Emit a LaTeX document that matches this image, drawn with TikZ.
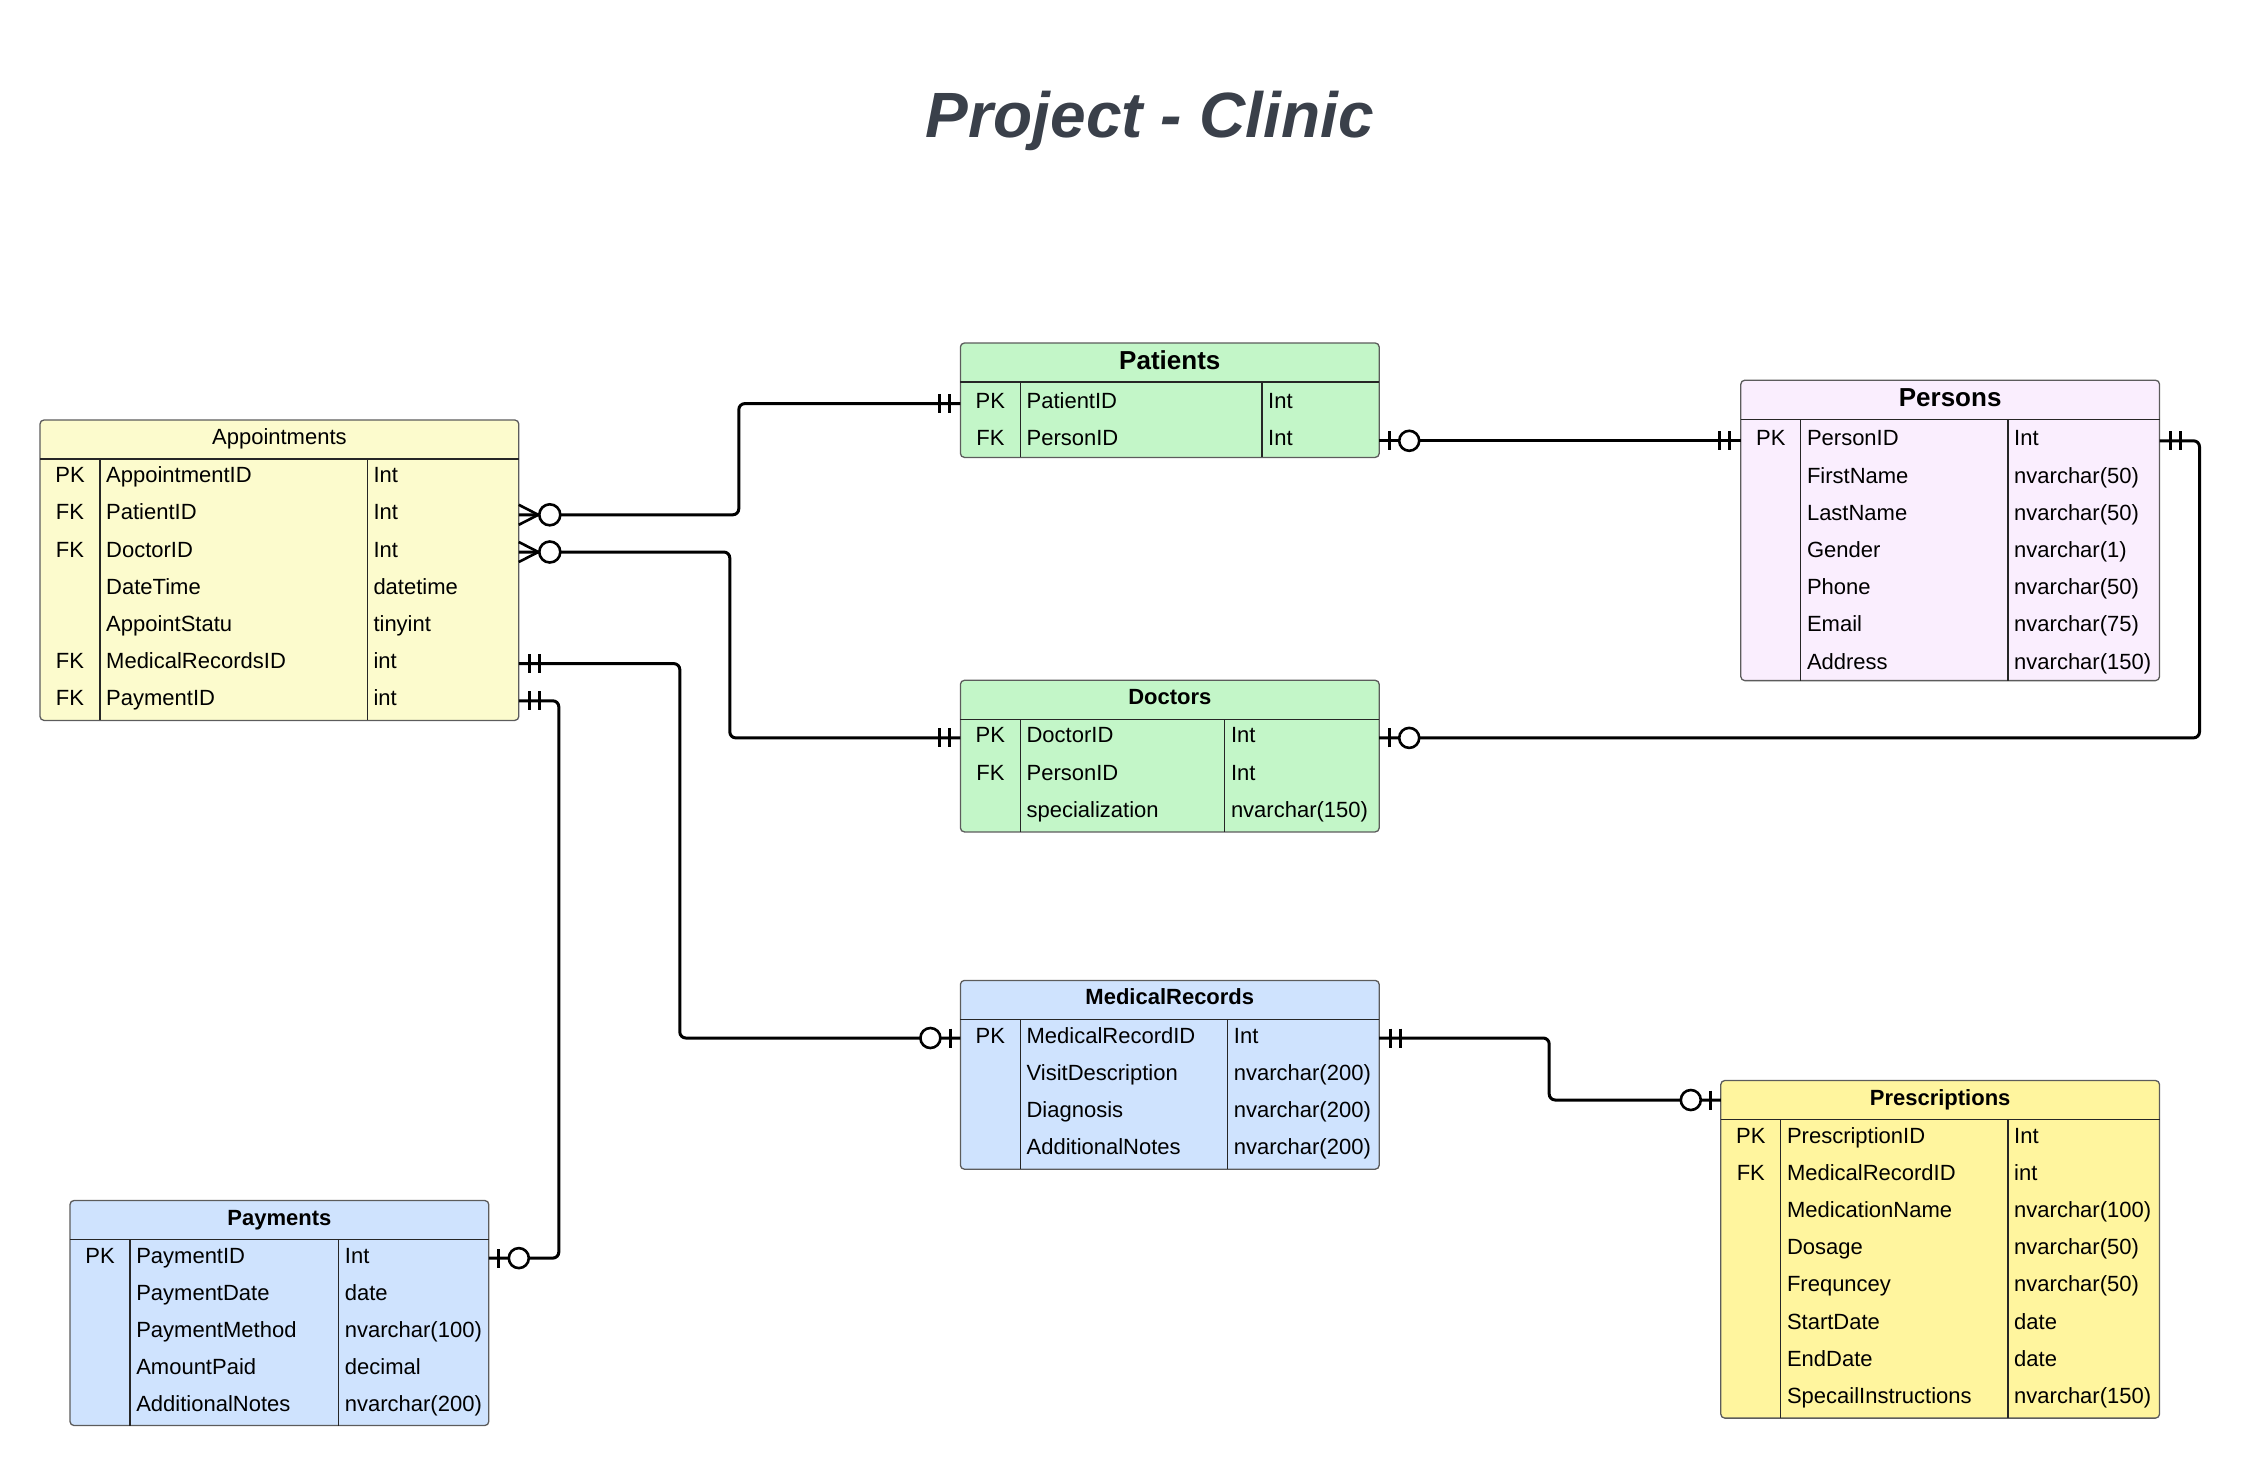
\documentclass[tikz,border=0pt]{standalone}
\usepackage{fontspec}
\setmainfont{Liberation Sans}
\usetikzlibrary{decorations.markings}

\definecolor{titlegray}{HTML}{3A404A}
\definecolor{boxgray}{HTML}{5C5C5C}
\definecolor{appfill}{HTML}{FCFBCD}
\definecolor{greenfill}{HTML}{C3F6C8}
\definecolor{lilacfill}{HTML}{FAEEFE}
\definecolor{bluefill}{HTML}{CFE3FE}
\definecolor{yellowfill}{HTML}{FFF59E}

\tikzstyle{tbl}=[draw=boxgray,line width=1.3,rounded corners=4,anchor=north west,inner sep=0,outer sep=0]
\tikzstyle{rowbox}=[inner sep=0,outer sep=0,minimum height=37.2]
\tikzstyle{hdr}=[rowbox,minimum height=39,font=\fontsize{22}{26}\selectfont\bfseries,text height=16,text depth=6]
\tikzstyle{bighdr}=[hdr,font=\fontsize{26}{30}\selectfont\bfseries,text height=19,text depth=5]
\tikzstyle{keytxt}=[inner sep=0,font=\fontsize{22}{26}\selectfont,text height=18,text depth=8]
\tikzstyle{fldtxt}=[keytxt,anchor=west]
\tikzstyle{sepline}=[line width=1.3,draw=black!85]
\tikzstyle{erline}=[line width=3,rounded corners=6]
\tikzstyle{one-s}=[postaction={decorate,decoration={markings,
  mark=at position 11pt with {\draw[line width=2.8,sharp corners] (0,-9.5) -- (0,9.5);},
  mark=at position 21pt with {\draw[line width=2.8,sharp corners] (0,-9.5) -- (0,9.5);}}}]
\tikzstyle{one-e}=[postaction={decorate,decoration={markings,
  mark=at position -21pt with {\draw[line width=2.8,sharp corners] (0,-9.5) -- (0,9.5);},
  mark=at position -11pt with {\draw[line width=2.8,sharp corners] (0,-9.5) -- (0,9.5);}}}]
\tikzstyle{zone-s}=[postaction={decorate,decoration={markings,
  mark=at position 10pt with {\draw[line width=2.8,sharp corners] (0,-9.5) -- (0,9.5);},
  mark=at position 30pt with {\draw[line width=2.6,fill=white] (0,0) circle (10);}}}]
\tikzstyle{zone-e}=[postaction={decorate,decoration={markings,
  mark=at position -30pt with {\draw[line width=2.6,fill=white] (0,0) circle (10);},
  mark=at position -10pt with {\draw[line width=2.8,sharp corners] (0,-9.5) -- (0,9.5);}}}]
\tikzstyle{many-s}=[postaction={decorate,decoration={markings,
  mark=at position 0.5pt with {\draw[line width=2.6,sharp corners] (-0.5,-10) -- (19,0) -- (-0.5,10);},
  mark=at position 31pt with {\draw[line width=2.6,fill=white] (0,0) circle (10.5);}}}]

\begin{document}
\begin{tikzpicture}[x=1pt,y=-1pt]
	\useasboundingbox (0,0) rectangle (2241,1465);
	\node[font=\fontsize{64}{72}\selectfont\bfseries\itshape,text=titlegray,anchor=base] (title) at (1150,137) {Project - Clinic};
	
	% Appointments
	\node[tbl,fill=appfill,minimum width=478.8,minimum height=300.4] (app) at (40,420) {};
	\node[hdr,font=\fontsize{22}{26}\selectfont,minimum width=478.8] (app-h) at (279.4,439.5) {Appointments};
	\draw[sepline] (40,459) -- (518.8,459);
	\draw[sepline] (100,459) -- (100,720.4);
	\draw[sepline] (367.3,459) -- (367.3,720.4);
	\foreach \k/\f/\t [count=\i] in {PK/AppointmentID/Int, FK/PatientID/Int, FK/DoctorID/Int, /DateTime/datetime, /AppointStatu/tinyint, FK/MedicalRecordsID/int, FK/PaymentID/int}
	{
		\node[rowbox,minimum width=478.8] (app-\i) at (279.4,{459+(\i-0.5)*37.2}) {};
		\node[keytxt] (app-\i-k) at (70,{459+(\i-0.5)*37.2}) {\k};
		\node[fldtxt] (app-\i-f) at (106,{459+(\i-0.5)*37.2}) {\f};
		\node[fldtxt] (app-\i-t) at (373.3,{459+(\i-0.5)*37.2}) {\t};
	}
	
	% Patients
	\node[tbl,fill=greenfill,minimum width=418.8,minimum height=114.4] (pat) at (960.4,343) {};
	\node[bighdr,minimum width=418.8] (pat-h) at (1169.8,362.5) {Patients};
	\draw[sepline] (960.4,382) -- (1379.2,382);
	\draw[sepline] (1020.4,382) -- (1020.4,457.4);
	\draw[sepline] (1262,382) -- (1262,457.4);
	\foreach \k/\f/\t [count=\i] in {PK/PatientID/Int, FK/PersonID/Int}
	{
		\node[rowbox,minimum width=418.8] (pat-\i) at (1169.8,{385+(\i-0.5)*37.2}) {};
		\node[keytxt] (pat-\i-k) at (990.4,{385+(\i-0.5)*37.2}) {\k};
		\node[fldtxt] (pat-\i-f) at (1026.4,{385+(\i-0.5)*37.2}) {\f};
		\node[fldtxt] (pat-\i-t) at (1268,{385+(\i-0.5)*37.2}) {\t};
	}
	
	% Persons
	\node[tbl,fill=lilacfill,minimum width=418.7,minimum height=300.4] (per) at (1740.8,380.2) {};
	\node[bighdr,minimum width=418.7] (per-h) at (1950.15,399.7) {Persons};
	\draw[sepline] (1740.8,419.2) -- (2159.5,419.2);
	\draw[sepline] (1800.8,419.2) -- (1800.8,680.6);
	\draw[sepline] (2008,419.2) -- (2008,680.6);
	\foreach \k/\f/\t [count=\i] in {PK/PersonID/Int, /FirstName/nvarchar(50), /LastName/nvarchar(50), /Gender/nvarchar(1), /Phone/nvarchar(50), /Email/nvarchar(75), /Address/nvarchar(150)}
	{
		\node[rowbox,minimum width=418.7] (per-\i) at (1950.15,{422.2+(\i-0.5)*37.2}) {};
		\node[keytxt] (per-\i-k) at (1770.8,{422.2+(\i-0.5)*37.2}) {\k};
		\node[fldtxt] (per-\i-f) at (1806.8,{422.2+(\i-0.5)*37.2}) {\f};
		\node[fldtxt] (per-\i-t) at (2014,{422.2+(\i-0.5)*37.2}) {\t};
	}
	
	% Doctors
	\node[tbl,fill=greenfill,minimum width=418.8,minimum height=151.6] (doc) at (960.4,680.3) {};
	\node[hdr,minimum width=418.8] (doc-h) at (1169.8,699.8) {Doctors};
	\draw[sepline] (960.4,719.3) -- (1379.2,719.3);
	\draw[sepline] (1020.4,719.3) -- (1020.4,831.9);
	\draw[sepline] (1224.8,719.3) -- (1224.8,831.9);
	\foreach \k/\f/\t [count=\i] in {PK/DoctorID/Int, FK/PersonID/Int, /specialization/nvarchar(150)}
	{
		\node[rowbox,minimum width=418.8] (doc-\i) at (1169.8,{719.3+(\i-0.5)*37.2}) {};
		\node[keytxt] (doc-\i-k) at (990.4,{719.3+(\i-0.5)*37.2}) {\k};
		\node[fldtxt] (doc-\i-f) at (1026.4,{719.3+(\i-0.5)*37.2}) {\f};
		\node[fldtxt] (doc-\i-t) at (1230.8,{719.3+(\i-0.5)*37.2}) {\t};
	}
	
	% MedicalRecords
	\node[tbl,fill=bluefill,minimum width=418.8,minimum height=188.8] (med) at (960.4,980.4) {};
	\node[hdr,minimum width=418.8] (med-h) at (1169.8,999.9) {MedicalRecords};
	\draw[sepline] (960.4,1019.4) -- (1379.2,1019.4);
	\draw[sepline] (1020.4,1019.4) -- (1020.4,1169.2);
	\draw[sepline] (1227.7,1019.4) -- (1227.7,1169.2);
	\foreach \k/\f/\t [count=\i] in {PK/MedicalRecordID/Int, /VisitDescription/nvarchar(200), /Diagnosis/nvarchar(200), /AdditionalNotes/nvarchar(200)}
	{
		\node[rowbox,minimum width=418.8] (med-\i) at (1169.8,{1019.4+(\i-0.5)*37.2}) {};
		\node[keytxt] (med-\i-k) at (990.4,{1019.4+(\i-0.5)*37.2}) {\k};
		\node[fldtxt] (med-\i-f) at (1026.4,{1019.4+(\i-0.5)*37.2}) {\f};
		\node[fldtxt] (med-\i-t) at (1233.7,{1019.4+(\i-0.5)*37.2}) {\t};
	}
	
	% Prescriptions
	\node[tbl,fill=yellowfill,minimum width=438.7,minimum height=337.6] (pre) at (1720.8,1080.5) {};
	\node[hdr,minimum width=438.7] (pre-h) at (1940.15,1100) {Prescriptions};
	\draw[sepline] (1720.8,1119.5) -- (2159.5,1119.5);
	\draw[sepline] (1780.8,1119.5) -- (1780.8,1418.1);
	\draw[sepline] (2008,1119.5) -- (2008,1418.1);
	\foreach \k/\f/\t [count=\i] in {PK/PrescriptionID/Int, FK/MedicalRecordID/int, /MedicationName/nvarchar(100), /Dosage/nvarchar(50), /Frequncey/nvarchar(50), /StartDate/date, /EndDate/date, /SpecailInstructions/nvarchar(150)}
	{
		\node[rowbox,minimum width=438.7] (pre-\i) at (1940.15,{1119.5+(\i-0.5)*37.2}) {};
		\node[keytxt] (pre-\i-k) at (1750.8,{1119.5+(\i-0.5)*37.2}) {\k};
		\node[fldtxt] (pre-\i-f) at (1786.8,{1119.5+(\i-0.5)*37.2}) {\f};
		\node[fldtxt] (pre-\i-t) at (2014,{1119.5+(\i-0.5)*37.2}) {\t};
	}
	
	% Payments
	\node[tbl,fill=bluefill,minimum width=418.8,minimum height=225] (pay) at (70,1200.5) {};
	\node[hdr,minimum width=418.8] (pay-h) at (279.4,1220) {Payments};
	\draw[sepline] (70,1239.5) -- (488.8,1239.5);
	\draw[sepline] (130.1,1239.5) -- (130.1,1425.5);
	\draw[sepline] (338.7,1239.5) -- (338.7,1425.5);
	\foreach \k/\f/\t [count=\i] in {PK/PaymentID/Int, /PaymentDate/date, /PaymentMethod/nvarchar(100), /AmountPaid/decimal, /AdditionalNotes/nvarchar(200)}
	{
		\node[rowbox,minimum width=418.8] (pay-\i) at (279.4,{1239.5+(\i-0.5)*37.2}) {};
		\node[keytxt] (pay-\i-k) at (100,{1239.5+(\i-0.5)*37.2}) {\k};
		\node[fldtxt] (pay-\i-f) at (136.1,{1239.5+(\i-0.5)*37.2}) {\f};
		\node[fldtxt] (pay-\i-t) at (344.7,{1239.5+(\i-0.5)*37.2}) {\t};
	}
	
	% relations
	\draw[erline,many-s,one-e] (app-2.east) -- ++(220,0) |- (pat-1.west);
	\draw[erline,many-s,one-e] (app-3.east) -- ++(211,0) |- (doc-1.west);
	\draw[erline,one-s,zone-e] (app-6.east) -- ++(161,0) |- (med-1.west);
	\draw[erline,one-s,zone-e] (app-7.east) -- ++(40,0) |- (pay-1.east);
	\draw[erline,zone-s,one-e] (pat-2.east) -- (per-1.west);
	\draw[erline,one-s,zone-e] (per-1.east) -- ++(40,0) |- (doc-1.east);
	\draw[erline,one-s,zone-e] (med-1.east) -- ++(170,0) |- (pre-h.west);
\end{tikzpicture}
\end{document}
